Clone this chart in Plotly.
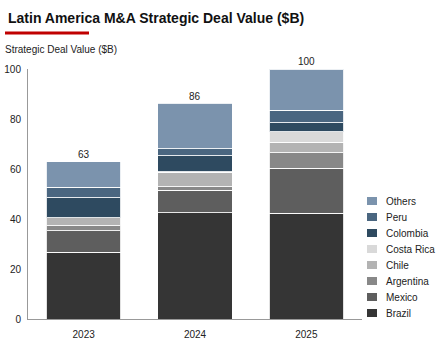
import plotly.graph_objects as go

years = ["2023", "2024", "2025"]
series_names = ["Brazil", "Mexico", "Argentina", "Chile", "Costa Rica", "Colombia", "Peru", "Others"]
brazil = [26.7, 42.6, 42.3]
mexico = [8.7, 8.9, 18.1]
argentina = [2.0, 1.4, 6.2]
chile = [3.1, 5.9, 4.2]
costa_rica = [0.0, 0.2, 4.2]
colombia = [8.0, 6.4, 3.5]
peru = [4.2, 2.7, 5.1]
others = [10.3, 18.2, 16.4]
y_ticks = [0, 20, 40, 60, 80, 100]

series_values = [brazil, mexico, argentina, chile, costa_rica, colombia, peru, others]
colors = ["#353535", "#5e5e5e", "#888888", "#b3b3b3", "#d9d9d9", "#2e4a60", "#4a6680", "#7b93ad"]
FONT = "Arial, Liberation Sans, sans-serif"

# plot area in pixels
L, R, T, B = 28, 362, 69, 319
PW, PH = R - L, B - T


def px_x(px):
    return (px - L) / PW


def px_y(py):
    return (B - py) / PH


xpos = list(range(len(years)))

fig = go.Figure()
for name, vals, col in zip(series_names, series_values, colors):
    fig.add_trace(go.Bar(
        x=xpos, y=vals, name=name, width=0.67,
        marker=dict(color=col, line=dict(color="rgba(255,255,255,0.85)", width=1)),
        hoverinfo="skip", showlegend=False,
    ))

totals = [round(sum(v[i] for v in series_values)) for i in range(len(years))]
for xp, tot in zip(xpos, totals):
    fig.add_annotation(x=xp, y=tot, text=str(tot), showarrow=False,
                       yanchor="bottom", yshift=0, font=dict(size=10, color="#222222", family=FONT))

# custom legend (top = last series)
for i, (name, col) in enumerate(zip(reversed(series_names), reversed(colors))):
    cy = 201 + 16 * i
    fig.add_shape(type="rect", xref="paper", yref="paper",
                  x0=px_x(367), x1=px_x(377), y0=px_y(cy + 4), y1=px_y(cy - 4),
                  fillcolor=col, line=dict(width=0))
    fig.add_annotation(xref="paper", yref="paper", x=px_x(384), y=px_y(cy),
                       xanchor="left", yanchor="middle", showarrow=False, text=name,
                       font=dict(size=10, color="#222222", family=FONT))

fig.add_annotation(xref="paper", yref="paper", x=px_x(6), y=px_y(18),
                   xanchor="left", yanchor="middle", showarrow=False,
                   text="<b>Latin America M&A Strategic Deal Value ($B)</b>",
                   font=dict(size=14, color="#111111", family=FONT))
fig.add_annotation(xref="paper", yref="paper", x=px_x(3), y=px_y(50),
                   xanchor="left", yanchor="middle", showarrow=False,
                   text="Strategic Deal Value ($B)",
                   font=dict(size=10, color="#222222", family=FONT))
fig.add_shape(type="line", xref="paper", yref="paper",
              x0=px_x(5), x1=px_x(89), y0=px_y(33), y1=px_y(33),
              line=dict(color="#c00000", width=3))

fig.update_layout(
    barmode="stack",
    width=447, height=350,
    margin=dict(l=L, r=447 - R, t=T, b=350 - B, autoexpand=False),
    paper_bgcolor="white", plot_bgcolor="white",
    font=dict(family=FONT, size=10, color="#222222"),
    showlegend=False,
    xaxis=dict(range=[-0.5, len(years) - 0.5], tickvals=xpos, ticktext=years,
               showline=True, linecolor="#999999", linewidth=1, ticks="", showgrid=False,
               zeroline=False, automargin=False, ticklabelstandoff=6,
               tickfont=dict(size=10, color="#222222")),
    yaxis=dict(range=[0, 100], tickvals=y_ticks, showgrid=False, zeroline=False,
               showline=True, linecolor="#999999", linewidth=1, automargin=False,
               ticklabelstandoff=4, tickfont=dict(size=10, color="#222222")),
)

fig.write_html("out.html")
